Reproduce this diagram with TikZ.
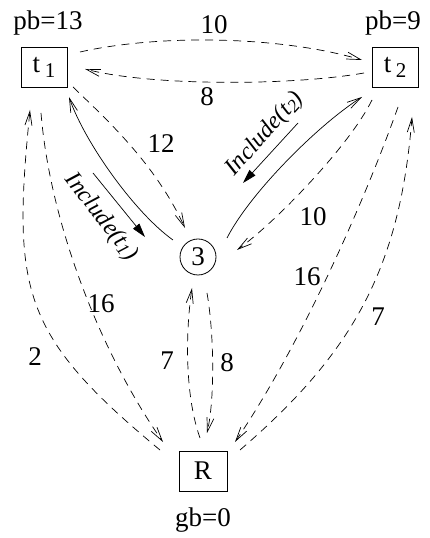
\documentclass[tikz,border=0pt]{standalone}
\usepackage{fontspec}
\setmainfont{Liberation Serif}
\usetikzlibrary{arrows.meta}

% subscript set a little below the baseline
\newcommand{\lowsub}[3]{\raisebox{-#2pt}{\fontsize{#3}{#3}\selectfont #1}}

\begin{document}
\begin{tikzpicture}[x=1pt,y=1pt,
  every node/.style={font=\fontsize{27}{30}\selectfont, inner sep=0pt},
  task/.style={draw, line width=0.8pt, minimum width=46pt, minimum height=40pt},
  state/.style={draw, circle, line width=0.8pt, minimum size=36pt},
  barb/.style={-{Straight Barb[length=14pt,width=7pt,line width=0.7pt]}},
  flow/.style={barb, line width=0.7pt, dash pattern=on 8pt off 6pt},
  incl/.style={barb, line width=0.7pt},
  act/.style={line width=0.7pt, -{Triangle[length=14pt,width=8pt]}},
  actlabel/.style={font=\fontsize{24}{26}\selectfont\itshape},
]
\useasboundingbox (0,0) rectangle (430,538);

% nodes
\node[task] (t1) at (44,471) {t\,\lowsub{1}{5}{21}};
\node[task] (t2) at (395,471) {t\,\lowsub{2}{5}{21}};
\node[state] (n3) at (198,281) {3};
\node[task, minimum width=48pt] (R) at (203,67) {R};

\node (pb1) at (48,515) {pb=13};
\node (pb2) at (393,515) {pb=9};
\node (gb) at (203,18) {gb=0};

% between t1 and t2
\draw[flow] ([shift={(36,15)}]t1.center) .. controls (160,504) and (280,502) .. ([shift={(-33,7)}]t2.center);
\draw[flow] ([shift={(-31,-6)}]t2.center) .. controls (290,452) and (150,452) .. ([shift={(41,-2)}]t1.center);
\node (w10a) at (214,513) {10};
\node (w8a) at (207,441) {8};

% between t1 and 3
\draw[flow] ([shift={(29,-20)}]t1.center) .. controls (105,420) and (155,375) .. ([shift={(-13,29)}]n3.center);
\draw[incl] ([shift={(-25,17)}]n3.center) .. controls (135,325) and (85,395) .. ([shift={(25,-30)}]t1.center);
\node (w12) at (161,394) {12};
\coordinate (i1s) at (93,365);
\coordinate (i1e) at (145,301);
\draw[act] (i1s) -- (i1e);
\node[actlabel, rotate=-52] (inc1) at (101,321) {Include(t\lowsub{1}{3}{18})};

% between t2 and 3
\draw[flow] ([shift={(-23,-33)}]t2.center) .. controls (350,393) and (277,317) .. ([shift={(39,7)}]n3.center);
\draw[incl] ([shift={(29,19)}]n3.center) .. controls (250,345) and (318,413) .. ([shift={(-33,-30)}]t2.center);
\node (w10b) at (313,321) {10};
\coordinate (i2s) at (298,415);
\coordinate (i2e) at (243,355);
\draw[act] (i2s) -- (i2e);
\node[actlabel, rotate=48] (inc2) at (265,404) {Include(t\lowsub{2}{3}{18})};

% between t1 and R
\draw[flow] ([shift={(-43,21)}]R.center) .. controls (21,203) and (12,248) .. ([shift={(-14,-43)}]t1.center);
\draw[flow] ([shift={(-3,-46)}]t1.center) .. controls (50,315) and (100,186) .. ([shift={(-40,29)}]R.center);
\node (w2) at (35,181) {2};
\node (w16a) at (101,234) {16};

% between 3 and R
\draw[flow] ([shift={(-3,33)}]R.center) .. controls (184,145) and (186,210) .. ([shift={(-6,-31)}]n3.center);
\draw[flow] ([shift={(9,-36)}]n3.center) .. controls (214,205) and (215,140) .. ([shift={(4,38)}]R.center);
\node (w7a) at (167,177) {7};
\node (w8b) at (227,175) {8};

% between t2 and R
\draw[flow] ([shift={(3,-40)}]t2.center) .. controls (361,327) and (297,187) .. ([shift={(32,29)}]R.center);
\draw[flow] ([shift={(37,21)}]R.center) .. controls (354,186) and (400,271) .. ([shift={(17,-50)}]t2.center);
\node (w16b) at (307,261) {16};
\node (w7b) at (378,221) {7};
\end{tikzpicture}
\end{document}
